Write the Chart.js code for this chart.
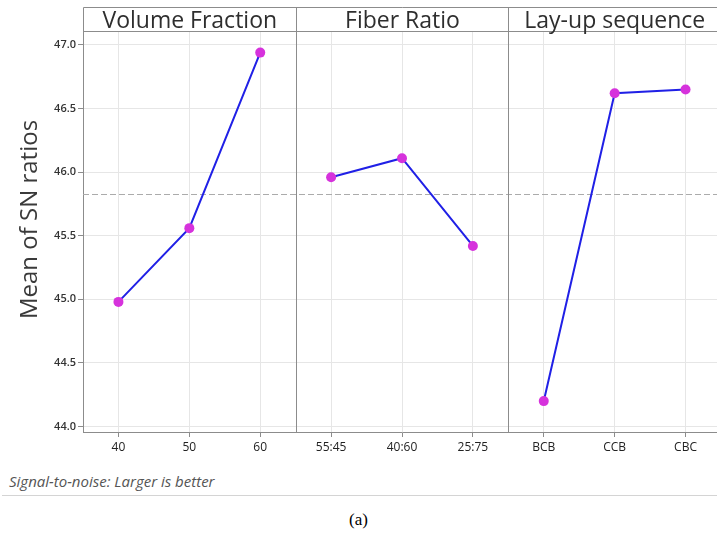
<!DOCTYPE html>
<html>
<head>
<meta charset="utf-8">
<script src="https://cdn.jsdelivr.net/npm/chart.js@4.4.0/dist/chart.umd.min.js"></script>
<style>
  body { margin: 0; background: #fff; }
  #wrap { position: relative; width: 717px; height: 536px; overflow: hidden; }
  /* plot runs slightly past the right edge, as in the cropped original */
  #chartBox { position: absolute; left: 0; top: 0; width: 722px; height: 470px; }
  #note { position: absolute; left: 9px; top: 471px; font: italic 15px "Open Sans"; color: #555; }
  #rule { position: absolute; left: 2px; right: 0; top: 495px; border-top: 1px solid #d4d4d4; }
  #caption { position: absolute; left: 0; width: 717px; top: 510px; text-align: center; font: 17px "Liberation Serif"; color: #000; }
</style>
</head>
<body>
<div id="wrap">
  <div id="chartBox"><canvas id="effects"></canvas></div>
  <div id="note">Signal-to-noise: Larger is better</div>
  <div id="rule"></div>
  <div id="caption">(a)</div>
</div>
<script>
const levels = ['40', '50', '60', '55:45', '40:60', '25:75', 'BCB', 'CCB', 'CBC'];
const factors = ['Volume Fraction', 'Fiber Ratio', 'Lay-up sequence'];
const volumeFraction = [44.98, 45.56, 46.94];
const fiberRatio = [45.96, 46.11, 45.42];
const layup = [44.20, 46.62, 46.65];
const grandMean = 45.83;
const yTicks = [44.0, 44.5, 45.0, 45.5, 46.0, 46.5, 47.0];

// each factor gets its own 3 slots on the shared category axis
function pad(vals, panel) {
    const out = new Array(levels.length).fill(null);
    vals.forEach((v, i) => out[panel * 3 + i] = v);
    return out;
}

const panels = {
    id: 'panels',
    beforeDatasetsDraw(chart) {
        const { ctx, chartArea: a, scales: { x, y } } = chart;
        ctx.save();

        // grand mean reference line
        const my = Math.round(y.getPixelForValue(grandMean)) + 0.5;
        ctx.strokeStyle = '#ababab';
        ctx.lineWidth = 1;
        ctx.setLineDash([6, 3]);
        ctx.beginPath();
        ctx.moveTo(a.left, my);
        ctx.lineTo(a.right, my);
        ctx.stroke();
        ctx.setLineDash([]);

        // header strip + panel dividers
        ctx.strokeStyle = '#8c8c8c';
        ctx.beginPath();
        ctx.moveTo(a.left + 0.5, 7.5);
        ctx.lineTo(a.right, 7.5);
        ctx.moveTo(a.left, Math.round(a.top) + 0.5);
        ctx.lineTo(a.right, Math.round(a.top) + 0.5);
        ctx.moveTo(a.left + 0.5, 7.5);
        ctx.lineTo(a.left + 0.5, a.top);
        const bounds = [a.left];
        for (let p = 1; p < factors.length; p++) {
            const bx = Math.round((x.getPixelForValue(p * 3 - 1) + x.getPixelForValue(p * 3)) / 2) + 0.5;
            bounds.push(bx);
            ctx.moveTo(bx, 7.5);
            ctx.lineTo(bx, a.bottom);
        }
        bounds.push(a.right);
        ctx.stroke();

        // factor names
        ctx.fillStyle = '#2e2e2e';
        ctx.font = '23px "Open Sans"';
        ctx.textAlign = 'center';
        ctx.textBaseline = 'alphabetic';
        factors.forEach((f, i) => {
            ctx.fillText(f, (bounds[i] + bounds[i + 1]) / 2, 28);
        });

        // y axis title, centred on the whole panel including header
        ctx.fillStyle = '#3a3a3a';
        ctx.font = '24px "Open Sans"';
        ctx.textBaseline = 'middle';
        ctx.translate(30, (7 + a.bottom) / 2);
        ctx.rotate(-Math.PI / 2);
        ctx.fillText('Mean of SN ratios', 0, 0);

        ctx.restore();
    }
};

const colors = { line: '#2020e6', point: '#d632dc' };

new Chart(document.getElementById('effects'), {
    type: 'line',
    data: {
        labels: levels,
        datasets: [volumeFraction, fiberRatio, layup].map((vals, i) => ({
            label: factors[i],
            data: pad(vals, i),
            borderColor: colors.line,
            borderWidth: 2,
            pointRadius: 5,
            pointBackgroundColor: colors.point,
            pointBorderWidth: 0,
            spanGaps: false
        }))
    },
    options: {
        responsive: true,
        maintainAspectRatio: false,
        animation: false,
        layout: { autoPadding: false, padding: { top: 31, right: 1, left: 0, bottom: 0 } },
        plugins: {
            legend: { display: false },
            tooltip: { enabled: false }
        },
        scales: {
            x: {
                type: 'category',
                offset: true,
                afterFit: s => { s.height = 38; },
                grid: { offset: false, color: '#e6e6e6', tickColor: '#8c8c8c', tickLength: 5 },
                border: { color: '#8c8c8c' },
                ticks: {
                    color: '#222',
                    font: { family: 'Open Sans', size: 12 },
                    padding: 3,
                    maxRotation: 0,
                    autoSkip: false
                }
            },
            y: {
                min: 43.957,
                max: 47.11,
                afterFit: s => { s.width = 83; },
                afterBuildTicks: s => { s.ticks = yTicks.map(v => ({ value: v })); },
                grid: { color: '#e6e6e6', tickColor: '#8c8c8c', tickLength: 5 },
                border: { color: '#8c8c8c' },
                ticks: {
                    color: '#333',
                    font: { family: 'Open Sans', size: 11, weight: '600' },
                    padding: 2,
                    callback: v => v.toFixed(1)
                }
            }
        }
    },
    plugins: [panels]
});
</script>
</body>
</html>
